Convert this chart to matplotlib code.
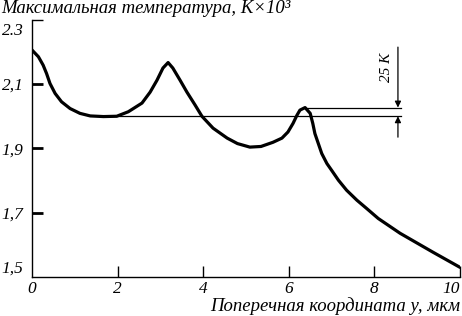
import matplotlib
matplotlib.use("Agg")
import matplotlib.pyplot as plt
import matplotlib.transforms as mtransforms

plt.rcParams['font.family'] = ['Liberation Serif', 'DejaVu Serif']

# данные
y_coord = [0.00, 0.15, 0.26, 0.34, 0.42, 0.54, 0.69, 0.89, 1.12, 1.36, 1.67, 1.98,
           2.25, 2.57, 2.76, 2.92, 3.06, 3.18, 3.29, 3.46, 3.62, 3.81, 3.97,
           4.23, 4.56, 4.80, 5.09, 5.35, 5.63, 5.84, 5.98, 6.10, 6.19, 6.26,
           6.38, 6.50, 6.56, 6.61, 6.69, 6.77, 6.89, 7.00, 7.16, 7.35, 7.59,
           7.82, 8.09, 8.60, 9.37, 10.0]
t_max = [2.206, 2.185, 2.159, 2.133, 2.102, 2.071, 2.045, 2.024, 2.009, 2.001, 1.999, 2.000,
         2.014, 2.041, 2.075, 2.112, 2.150, 2.167, 2.150, 2.112, 2.075, 2.035, 2.000,
         1.963, 1.932, 1.915, 1.904, 1.906, 1.919, 1.932, 1.951, 1.978, 2.003, 2.019,
         2.027, 2.009, 1.978, 1.946, 1.915, 1.884, 1.853, 1.832, 1.801, 1.770, 1.739,
         1.713, 1.682, 1.636, 1.577, 1.530]

x_ticks = [0, 2, 4, 6, 8, 10]
y_ticks = [1.5, 1.7, 1.9, 2.1, 2.3]
y_tick_labels = ["1,5", "1,7", "1,9", "2,1", "2.3"]

level_low = 2.0
level_high = 2.027
dim_x = 8.55

fig = plt.figure(figsize=(4.62, 3.16), dpi=100)
ax = fig.add_axes((32 / 462, 39 / 316, 428 / 462, 257.2 / 316))

ax.plot(y_coord, t_max, color='black', lw=2.3, solid_joinstyle='round',
        solid_capstyle='round')

# горизонтальные линии уровня
ax.plot([1.8, 8.62], [level_low, level_low], color='black', lw=0.9)
ax.plot([6.38, 8.62], [level_high, level_high], color='black', lw=0.9)

# размерные стрелки
ax.annotate('', xy=(dim_x, level_high), xytext=(dim_x, 2.215),
            arrowprops=dict(arrowstyle='-|>', color='black', lw=0.9,
                            mutation_scale=9, shrinkA=0, shrinkB=0))
ax.annotate('', xy=(dim_x, level_low), xytext=(dim_x, 1.935),
            arrowprops=dict(arrowstyle='-|>', color='black', lw=0.9,
                            mutation_scale=9, shrinkA=0, shrinkB=0))
ax.text(8.28, 2.153, '25 K', rotation=90, ha='center', va='center',
        fontsize=11, style='italic')

ax.set_xlim(0, 10)
ax.set_ylim(1.5, 2.3)
ax.spines['top'].set_visible(False)
ax.spines['right'].set_visible(False)
ax.spines['left'].set_linewidth(1)
ax.spines['bottom'].set_linewidth(1)

ax.set_xticks(x_ticks)
ax.set_xticklabels([str(v) for v in x_ticks], fontsize=12.5, style='italic')
ax.set_yticks(y_ticks)
ax.set_yticklabels(y_tick_labels, fontsize=12.5, style='italic')
ax.tick_params(axis='x', direction='in', length=8, width=1, pad=3)
ax.tick_params(axis='y', direction='in', length=8, width=2, pad=6)

labels = ax.get_yticklabels()
labels[0].set_va('bottom')
labels[-1].set_va('top')
labels[-1].set_transform(labels[-1].get_transform() +
                         mtransforms.ScaledTranslation(0, -2 / 72, fig.dpi_scale_trans))
ticks = ax.yaxis.get_major_ticks()
ticks[-1].tick1line.set_markeredgewidth(1)
ticks[0].tick1line.set_visible(False)
ax.xaxis.get_major_ticks()[0].tick1line.set_visible(False)
ax.get_xticklabels()[-1].set_ha('right')

fig.text(0.002, 0.999, 'Максимальная температура, K×10³', ha='left', va='top',
         fontsize=13.5, style='italic')
fig.text(0.997, 0.003, 'Поперечная координата y, мкм', ha='right', va='bottom',
         fontsize=13.5, style='italic')

fig.savefig('out.png', dpi=100)
